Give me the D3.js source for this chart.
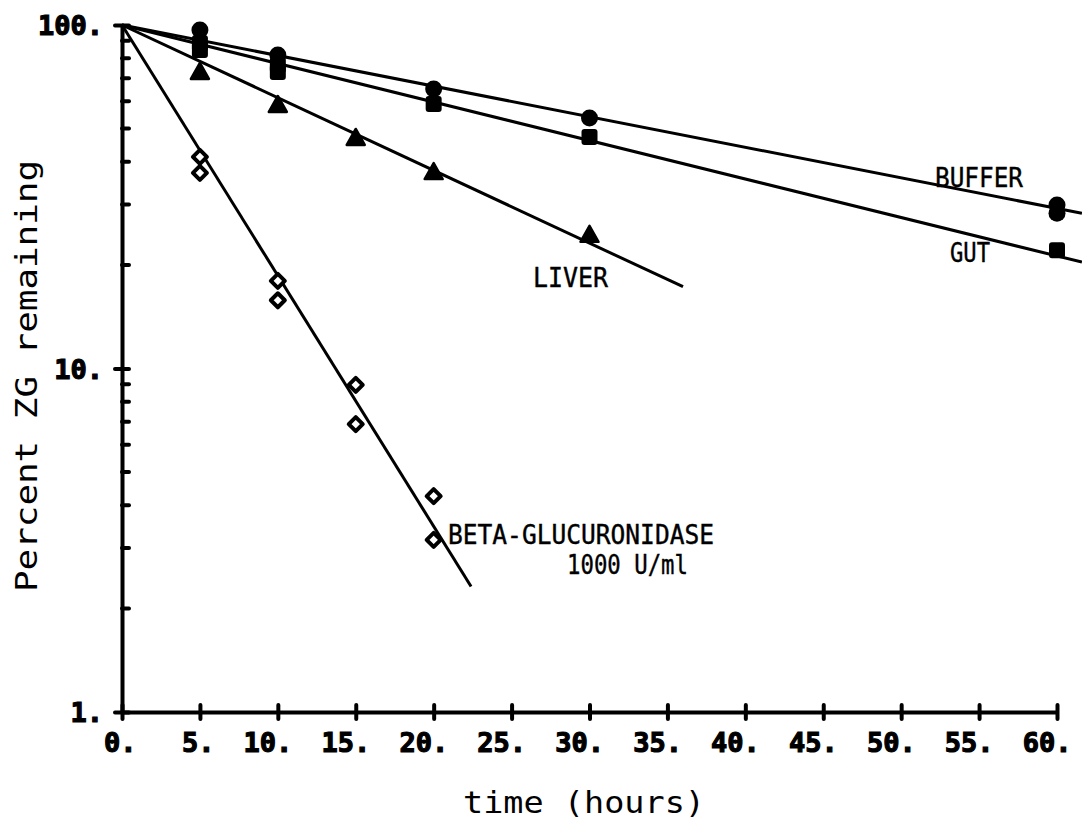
<!DOCTYPE html>
<html>
<head>
<meta charset="utf-8">
<script src="https://cdn.jsdelivr.net/npm/d3@7"></script>
<style>
  body { margin: 0; background: #fff; }
  svg { display: block; }
  .tick-label { font-family: "DejaVu Sans Mono", monospace; font-weight: bold; font-size: 27px; stroke: #000; stroke-width: 1.2px; }
  .title { font-family: "DejaVu Sans Mono", monospace; font-size: 30px; }
  .note { font-family: "DejaVu Sans Mono", monospace; font-size: 26px; stroke: #000; stroke-width: 0.4px; }
</style>
</head>
<body>
<svg width="1082" height="825"></svg>
<script>
// time points (hours)
var bufferT = [5, 10, 20, 30, 60, 60];
var bufferV = [96.7, 81.8, 65.1, 53.6, 29.9, 28.3];

var gutT = [5, 5, 10, 10, 20, 30, 60];
var gutV = [88.5, 84.5, 76.5, 73.0, 58.9, 47.2, 22.1];

var liverT = [5, 10, 15, 20, 30];
var liverV = [73.0, 58.5, 46.9, 37.3, 24.5];

var betaT = [5, 5, 10, 10, 15, 15, 20, 20];
var betaV = [41.3, 37.1, 18.0, 15.8, 8.96, 6.89, 4.25, 3.17];

// fitted lines: [t, percent] at start and end
var bufferFit = [[0, 100], [61.6, 28.3]];
var gutFit = [[0, 100], [61.6, 20.4]];
var liverFit = [[0, 100], [36, 17.3]];
var betaFit = [[0, 100], [22.4, 2.32]];

var xTicks = [0, 5, 10, 15, 20, 25, 30, 35, 40, 45, 50, 55, 60];
var yMajor = [1, 10, 100];
var yMinor = [2, 3, 4, 5, 6, 7, 8, 9, 20, 30, 40, 50, 60, 70, 80, 90];

var svg = d3.select("svg");

var x = d3.scaleLinear().domain([0, 60]).range([122, 1057]);
var y = d3.scaleLog().domain([1, 100]).range([712, 25]);

// x axis
var xAxis = svg.append("g")
    .attr("transform", "translate(0," + y(1) + ")")
    .call(d3.axisBottom(x).tickValues(xTicks).tickSizeOuter(0).tickFormat(function(d) { return d + "."; }));
xAxis.select(".domain").attr("stroke", "#000").attr("stroke-width", 4);
xAxis.selectAll(".tick line")
    .attr("y1", -7).attr("y2", 7)
    .attr("stroke", "#000").attr("stroke-width", 4).attr("stroke-linecap", "round");
xAxis.selectAll(".tick text")
    .attr("class", "tick-label")
    .attr("fill", "#000")
    .attr("text-anchor", "end")
    .attr("dx", 14)
    .attr("y", 21).attr("dy", "0.71em");

// y axis
var yAxis = svg.append("g")
    .attr("transform", "translate(" + x(0) + ",0)")
    .call(d3.axisLeft(y).tickValues(yMajor).tickSizeOuter(0).tickFormat(function(d) { return d + "."; }));
yAxis.select(".domain").attr("stroke", "#000").attr("stroke-width", 4);
yAxis.selectAll(".tick line")
    .attr("x1", -7).attr("x2", 7)
    .attr("stroke", "#000").attr("stroke-width", 4).attr("stroke-linecap", "round");
yAxis.selectAll(".tick text")
    .attr("class", "tick-label")
    .attr("fill", "#000")
    .attr("x", -19)
    .attr("dy", "0.36em");

svg.append("g").selectAll("line")
    .data(yMinor)
    .enter().append("line")
      .attr("x1", x(0)).attr("x2", x(0) + 7)
      .attr("y1", function(d) { return y(d); })
      .attr("y2", function(d) { return y(d); })
      .attr("stroke", "#000").attr("stroke-width", 4).attr("stroke-linecap", "round");

// titles
svg.append("text")
    .attr("class", "title")
    .attr("x", 584).attr("y", 813)
    .attr("text-anchor", "middle")
    .attr("textLength", 242).attr("lengthAdjust", "spacingAndGlyphs")
    .text("time  (hours)");

svg.append("text")
    .attr("class", "title")
    .attr("transform", "translate(37,376) rotate(-90)")
    .attr("text-anchor", "middle")
    .attr("textLength", 432).attr("lengthAdjust", "spacingAndGlyphs")
    .text("Percent  ZG  remaining");

// fitted lines
var line = d3.line()
    .x(function(d) { return x(d[0]); })
    .y(function(d) { return y(d[1]); });

[bufferFit, gutFit, liverFit, betaFit].forEach(function(f) {
  svg.append("path")
      .datum(f)
      .attr("d", line)
      .attr("fill", "none")
      .attr("stroke", "#000")
      .attr("stroke-width", 3);
});

function zip(t, v) {
  return t.map(function(d, i) { return { t: d, v: v[i] }; });
}

// buffer: filled circles
svg.append("g").selectAll("circle")
    .data(zip(bufferT, bufferV))
    .enter().append("circle")
      .attr("cx", function(d) { return x(d.t); })
      .attr("cy", function(d) { return y(d.v); })
      .attr("r", 8.5)
      .attr("fill", "#000");

// gut: filled squares
svg.append("g").selectAll("rect")
    .data(zip(gutT, gutV))
    .enter().append("rect")
      .attr("x", function(d) { return x(d.t) - 8; })
      .attr("y", function(d) { return y(d.v) - 8; })
      .attr("width", 16).attr("height", 16)
      .attr("rx", 3)
      .attr("fill", "#000");

// liver: filled triangles
svg.append("g").selectAll("path")
    .data(zip(liverT, liverV))
    .enter().append("path")
      .attr("transform", function(d) { return "translate(" + x(d.t) + "," + y(d.v) + ")"; })
      .attr("d", "M0,-9 L9,7 L-9,7 Z")
      .attr("fill", "#000")
      .attr("stroke", "#000").attr("stroke-width", 2.5).attr("stroke-linejoin", "round");

// beta-glucuronidase: open diamonds
svg.append("g").selectAll("path")
    .data(zip(betaT, betaV))
    .enter().append("path")
      .attr("transform", function(d) { return "translate(" + x(d.t) + "," + y(d.v) + ")"; })
      .attr("d", "M0,-7 L7,0 L0,7 L-7,0 Z")
      .attr("fill", "#fff")
      .attr("stroke", "#000").attr("stroke-width", 4).attr("stroke-linejoin", "round");

// series labels
var notes = [
  { text: "BUFFER", x: 935, y: 187, w: 88 },
  { text: "GUT", x: 950, y: 262, w: 40 },
  { text: "LIVER", x: 533, y: 287, w: 75 },
  { text: "BETA-GLUCURONIDASE", x: 448, y: 544, w: 266 },
  { text: "1000 U/ml", x: 567, y: 574, w: 121 }
];
svg.append("g").selectAll("text")
    .data(notes)
    .enter().append("text")
      .attr("class", "note")
      .attr("x", function(d) { return d.x; })
      .attr("y", function(d) { return d.y; })
      .attr("textLength", function(d) { return d.w; })
      .attr("lengthAdjust", "spacingAndGlyphs")
      .text(function(d) { return d.text; });
</script>
</body>
</html>
